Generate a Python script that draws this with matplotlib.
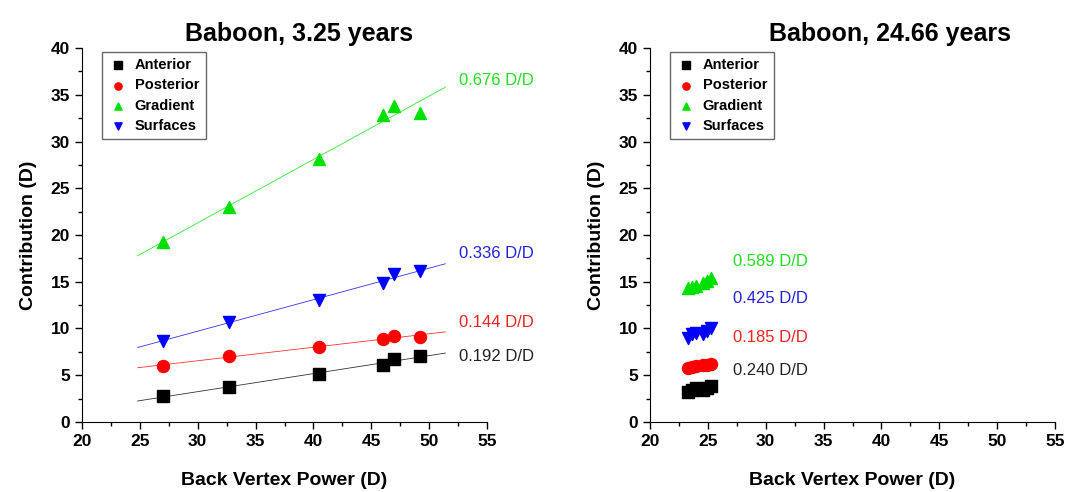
import numpy as np
from matplotlib import pyplot as plt
from matplotlib.ticker import MultipleLocator

plt.rcParams['font.family'] = ['Liberation Sans', 'DejaVu Sans']

# Baboon, 3.25 years
bvp_young = [27.0, 32.7, 40.5, 46.0, 47.0, 49.2]
anterior_young = [2.8, 3.7, 5.1, 6.1, 6.7, 7.1]
posterior_young = [6.0, 7.1, 8.0, 8.9, 9.2, 9.1]
gradient_young = [19.3, 23.0, 28.1, 32.8, 33.8, 33.1]
surfaces_young = [8.7, 10.7, 13.1, 14.9, 15.8, 16.1]
slopes_young = ['0.192 D/D', '0.144 D/D', '0.676 D/D', '0.336 D/D']

# Baboon, 24.66 years
bvp_old = [23.3, 23.6, 24.0, 24.6, 24.9, 25.3]
anterior_old = [3.2, 3.4, 3.6, 3.4, 3.6, 3.8]
posterior_old = [5.8, 5.9, 6.0, 6.1, 6.1, 6.2]
gradient_old = [14.3, 14.4, 14.5, 14.9, 15.1, 15.4]
surfaces_old = [9.0, 9.4, 9.5, 9.4, 9.7, 10.0]
slopes_old = ['0.240 D/D', '0.185 D/D', '0.589 D/D', '0.425 D/D']

names = ['Anterior', 'Posterior', 'Gradient', 'Surfaces']
colors = ['black', '#ff0000', '#00e000', '#0000ff']
markers = ['s', 'o', '^', 'v']
label_colors = ['#222222', '#ee2222', '#22dd22', '#2222dd']

fig = plt.figure(figsize=(10.67, 4.92), dpi=100)
ax1 = fig.add_axes([0.0769, 0.1423, 0.3795, 0.7601])
ax2 = fig.add_axes([0.6092, 0.1423, 0.3796, 0.7601])


def style(ax, title, title_x):
    ax.set_xlim(20, 55)
    ax.set_ylim(0, 40)
    ax.spines['top'].set_visible(False)
    ax.spines['right'].set_visible(False)
    ax.xaxis.set_major_locator(MultipleLocator(5))
    ax.xaxis.set_minor_locator(MultipleLocator(2.5))
    ax.yaxis.set_major_locator(MultipleLocator(5))
    ax.yaxis.set_minor_locator(MultipleLocator(2.5))
    ax.tick_params(which='both', direction='out', width=1)
    ax.tick_params(which='major', length=5, labelsize=12.5)
    ax.tick_params(which='minor', length=3)
    for lab in ax.get_xticklabels() + ax.get_yticklabels():
        lab.set_fontweight('bold')
    ax.set_xlabel('Back Vertex Power (D)', fontsize=14, fontweight='bold', labelpad=17)
    ax.set_ylabel('Contribution (D)', fontsize=14, fontweight='bold', labelpad=10)
    ax.set_title(title, fontsize=18, fontweight='bold', pad=5, x=title_x)
    leg = ax.legend(loc='upper left', bbox_to_anchor=(0.049, 0.99), borderaxespad=0,
                    frameon=True, fancybox=False, edgecolor='#444444',
                    handletextpad=0.5, borderpad=0.45, labelspacing=0.42,
                    handlelength=1.3, markerscale=0.6,
                    prop={'weight': 'bold', 'size': 10.5})
    leg.get_frame().set_linewidth(1.0)


series_young = [anterior_young, posterior_young, gradient_young, surfaces_young]
xfit = np.array([24.8, 51.4])
for y, name, c, m in zip(series_young, names, colors, markers):
    ax1.scatter(bvp_young, y, marker=m, color=c, s=75, label=name, zorder=3)
    k, b = np.polyfit(bvp_young, y, 1)
    ax1.plot(xfit, k * xfit + b, color=c, lw=0.6, alpha=0.8, zorder=2)

label_y_young = [7.0, 10.6, 36.5, 18.0]
for txt, yy, c in zip(slopes_young, label_y_young, label_colors):
    ax1.text(52.6, yy, txt, color=c, fontsize=12, va='center', clip_on=False)
style(ax1, 'Baboon, 3.25 years', 0.536)

series_old = [anterior_old, posterior_old, gradient_old, surfaces_old]
for y, name, c, m in zip(series_old, names, colors, markers):
    ax2.scatter(bvp_old, y, marker=m, color=c, s=75, label=name, zorder=3)

label_y_old = [5.5, 9.0, 17.2, 13.2]
for txt, yy, c in zip(slopes_old, label_y_old, label_colors):
    ax2.text(27.2, yy, txt, color=c, fontsize=12, va='center')
style(ax2, 'Baboon, 24.66 years', 0.593)

fig.savefig('out.png', dpi=100)
